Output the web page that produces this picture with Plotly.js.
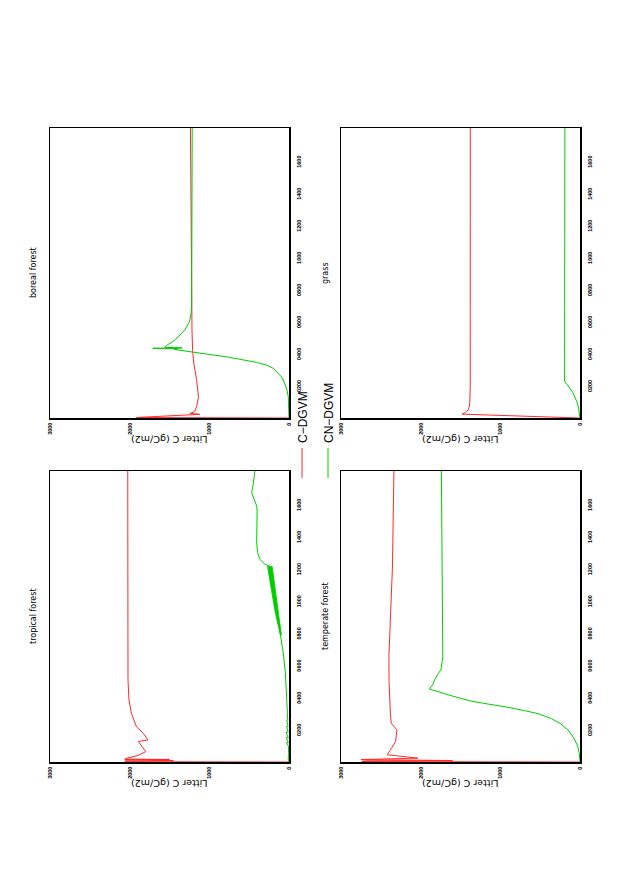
<!DOCTYPE html>
<html>
<head>
<meta charset="utf-8">
<script src="https://cdn.plot.ly/plotly-3.0.1.min.js"></script>
<style>
html, body { margin: 0; padding: 0; background: #ffffff; overflow: hidden; }
#plot { position: absolute; left: 0; top: 0; width: 877px; height: 620px;
        transform-origin: 0 0; transform: translate(0px, 877px) rotate(-90deg); }
</style>
</head>
<body>
<div id="plot"></div>
<script>
// ---- tick labels ----
const xTickVals = [200, 400, 600, 800, 1000, 1200, 1400, 1600];
const xTickText = ["0200", "0400", "0600", "0800", "1000", "1200", "1400", "1600"];
const yTickVals = [0, 1000, 2000, 3000];
const yTickText = ["0", "1000", "2000", "3000"];

const panelTitles = ["tropical forest", "boreal forest", "temperate forest", "grass"];
const seriesNames = ["C\u2212DGVM", "CN\u2212DGVM"];

// ---- tropical forest ----
const tropicalCYears = [0, 2, 4, 6, 8, 10, 12, 14, 16, 18, 20, 22, 40, 64, 128, 137, 179, 220, 304, 387, 512, 1810];
const tropicalC = [0, 2060, 1440, 2050, 1450, 2060, 1470, 2060, 1500, 2060, 1600, 2050, 1900, 1799, 1890, 1770, 1830, 1916, 1979, 2009, 2021, 2024];
const tropicalCNYears = [0, 12, 60, 100, 120, 121, 150, 151, 185, 186, 220, 221, 260, 261, 300, 407, 470, 553, 678, 780, 844, 948, 1031, 1135, 1218, 1229, 1260, 1302, 1365, 1430, 1510, 1560, 1593, 1645, 1676, 1728, 1810];
const tropicalCN = [0, 9, 6, 8, 30, 8, 35, 9, 38, 10, 30, 12, 28, 15, 20, 29, 30, 45, 72, 100, 124, 160, 190, 222, 240, 302, 365, 394, 406, 403, 399, 400, 406, 449, 469, 449, 428];
const tropicalBandYears = [790, 850, 900, 950, 1000, 1050, 1100, 1150, 1218];
const tropicalBandLow = [95, 112, 127, 142, 158, 172, 188, 200, 212];
const tropicalBandHigh = [108, 140, 160, 180, 198, 215, 235, 252, 270];

// ---- boreal forest ----
const borealCYears = [0, 3, 23, 29, 40, 70, 130, 240, 340, 420, 550, 800, 1200, 1810];
const borealC = [0, 1915, 1120, 1240, 1185, 1160, 1136, 1160, 1195, 1210, 1218, 1222, 1230, 1237];
const borealCNYears = [0, 50, 100, 133, 180, 210, 237, 260, 285, 310, 330, 347, 365, 382, 400, 410, 420, 428, 432, 435, 437, 441, 455, 480, 507, 550, 600, 650, 700, 1000, 1810];
const borealCN = [0, 1, 4, 9, 28, 48, 72, 100, 145, 197, 280, 406, 600, 784, 1050, 1204, 1360, 1440, 1390, 1710, 1340, 1560, 1530, 1450, 1390, 1308, 1250, 1230, 1222, 1218, 1215];

// ---- temperate forest ----
const temperateCYears = [0, 3, 5, 7, 9, 11, 13, 15, 24, 45, 90, 127, 200, 241, 300, 387, 500, 657, 800, 969, 1200, 1385, 1600, 1810];
const temperateC = [0, 2740, 1300, 2700, 1600, 2600, 1800, 2750, 2034, 2420, 2360, 2315, 2298, 2369, 2380, 2390, 2397, 2399, 2385, 2369, 2355, 2349, 2342, 2336];
const temperateCNYears = [0, 50, 100, 150, 200, 240, 270, 300, 320, 340, 360, 380, 410, 454, 480, 512, 550, 574, 657, 969, 1400, 1810];
const temperateCN = [0, 8, 30, 80, 150, 250, 360, 520, 700, 900, 1150, 1380, 1600, 1890, 1850, 1824, 1780, 1745, 1722, 1727, 1735, 1740];

// ---- grass ----
const grassCYears = [0, 24, 35, 50, 70, 92, 200, 1000, 1810];
const grassC = [0, 1480, 1440, 1405, 1390, 1384, 1378, 1377, 1377];
const grassCNYears = [0, 40, 70, 100, 133, 160, 185, 205, 226, 250, 268, 1810];
const grassCN = [0, 8, 21, 38, 63, 92, 126, 160, 189, 196, 193, 190];

// ---- styling / layout ----
const W = 877, H = 620;
const RED = "#ff2a2a", GREEN = "#00cc00";
const px = (X) => X / W;
const py = (Y) => (H - Y) / H;

// panel boxes in px (landscape): [left, right, top, bottom]
const boxes = [[115, 406, 50, 289], [459, 749, 50, 289], [115, 406, 341, 580], [459, 749, 341, 580]];
const seriesData = [
  [tropicalCYears, tropicalC, tropicalCNYears, tropicalCN],
  [borealCYears, borealC, borealCNYears, borealCN],
  [temperateCYears, temperateC, temperateCNYears, temperateCN],
  [grassCYears, grassC, grassCNYears, grassCN]
];

const traces = [];
const layout = {
  width: W, height: H,
  margin: {l: 0, r: 0, t: 0, b: 0},
  paper_bgcolor: "#ffffff", plot_bgcolor: "#ffffff",
  font: {family: "DejaVu Sans, sans-serif", color: "#000000"},
  annotations: [],
  legend: {x: px(394), y: py(302), xanchor: "left", yanchor: "middle", bgcolor: "rgba(0,0,0,0)",
           font: {family: "Liberation Sans, sans-serif", size: 12, color: "#000"}},
  legend2: {x: px(394), y: py(328), xanchor: "left", yanchor: "middle", bgcolor: "rgba(0,0,0,0)",
           font: {family: "Liberation Sans, sans-serif", size: 12, color: "#000"}}
};

const tickFont = {family: "Liberation Sans, sans-serif", size: 5.5, color: "#000", weight: "bold"};

boxes.forEach((b, i) => {
  const n = i + 1;
  const xa = "x" + (n === 1 ? "" : n), ya = "y" + (n === 1 ? "" : n);
  const xKey = "xaxis" + (n === 1 ? "" : n), yKey = "yaxis" + (n === 1 ? "" : n);
  layout[xKey] = {
    domain: [px(b[0]), px(b[1])], anchor: ya, range: [0, 1810],
    showline: true, linecolor: "#000", linewidth: 1.5, mirror: true,
    showgrid: false, zeroline: false, ticks: "",
    tickvals: xTickVals, ticktext: xTickText, tickfont: tickFont, ticklabelstandoff: 4
  };
  layout[yKey] = {
    domain: [py(b[3]), py(b[2])], anchor: xa, range: [0, 3000],
    showline: true, linecolor: "#000", linewidth: 1.5, mirror: true,
    showgrid: false, zeroline: false, ticks: "",
    tickvals: yTickVals, ticktext: yTickText, tickfont: tickFont, ticklabelstandoff: 2
  };
  const d = seriesData[i];
  if (i === 0) {
    traces.push({x: tropicalBandYears, y: tropicalBandLow, xaxis: xa, yaxis: ya, mode: "lines",
                 line: {color: GREEN, width: 0.8}, showlegend: false, hoverinfo: "skip"});
    traces.push({x: tropicalBandYears, y: tropicalBandHigh, xaxis: xa, yaxis: ya, mode: "lines",
                 fill: "tonexty", fillcolor: GREEN, line: {color: GREEN, width: 0.8},
                 showlegend: false, hoverinfo: "skip"});
  }
  traces.push({x: d[0], y: d[1], xaxis: xa, yaxis: ya, mode: "lines", name: seriesNames[0],
               line: {color: RED, width: 1}, showlegend: i === 0, legend: "legend"});
  traces.push({x: d[2], y: d[3], xaxis: xa, yaxis: ya, mode: "lines", name: seriesNames[1],
               line: {color: GREEN, width: 1}, showlegend: i === 0, legend: "legend2"});

  // panel title
  layout.annotations.push({text: panelTitles[i], xref: "paper", yref: "paper",
    x: px((b[0] + b[1]) / 2), y: py(b[2] - 16), xanchor: "center", yanchor: "middle",
    showarrow: false, font: {family: "DejaVu Sans, sans-serif", size: 8, color: "#000"}});
  // y-axis title
  layout.annotations.push({text: "Litter C (gC/m2)", xref: "paper", yref: "paper",
    x: px(b[0] - 21), y: py((b[2] + b[3]) / 2), xanchor: "center", yanchor: "middle",
    textangle: -90, showarrow: false, font: {family: "DejaVu Sans, sans-serif", size: 9.5, color: "#000"}});
});

Plotly.newPlot("plot", traces, layout, {displayModeBar: false, staticPlot: true});
</script>
</body>
</html>
